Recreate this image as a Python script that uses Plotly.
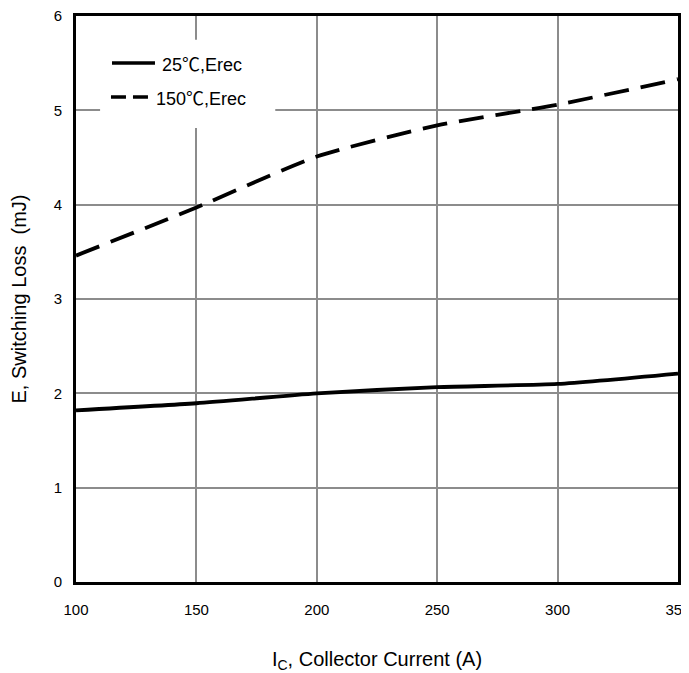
import plotly.graph_objects as go

ic = [100, 150, 200, 250, 300, 350]
erec_25 = [1.82, 1.895, 2.0, 2.065, 2.10, 2.21]
erec_150 = [3.46, 3.97, 4.51, 4.84, 5.06, 5.33]
series_names = ["25℃,Erec", "150℃,Erec"]
x_ticks = [100, 150, 200, 250, 300, 350]
y_ticks = [0, 1, 2, 3, 4, 5, 6]

FONT = "Liberation Sans, Arial, Noto Sans CJK SC"


def legend_label(name):
    # render the degree-Celsius sign with a CJK font, like the reference
    return name.replace("℃", '<span style="font-family:Noto Sans CJK SC">℃</span>')


fig = go.Figure()
fig.add_trace(go.Scatter(x=ic, y=erec_25, mode="lines", name=series_names[0],
                         line=dict(color="black", width=3.8, shape="spline", smoothing=0.6),
                         showlegend=False))
fig.add_trace(go.Scatter(x=ic, y=erec_150, mode="lines", name=series_names[1],
                         line=dict(color="black", width=3.8, dash="25px,12px", shape="spline", smoothing=0.6),
                         showlegend=False))

axis_common = dict(showline=True, linecolor="black", linewidth=3, mirror=True,
                   showgrid=True, gridcolor="#8c8c8c", gridwidth=1.6,
                   ticks="", zeroline=False, automargin=False,
                   ticklabeloverflow="allow",
                   tickfont=dict(family=FONT, size=15, color="black"))

# manual legend (white box hides grid lines, line samples, labels)
shapes = [
    dict(type="rect", xref="paper", yref="paper", x0=0.040, x1=0.331, y0=0.802, y1=0.958,
         fillcolor="white", line=dict(width=0), layer="above"),
    dict(type="line", xref="paper", yref="paper", x0=0.0598, x1=0.1312, y0=0.917, y1=0.917,
         line=dict(color="black", width=3.5), layer="above"),
    dict(type="line", xref="paper", yref="paper", x0=0.0581, x1=0.1196, y0=0.857, y1=0.857,
         line=dict(color="black", width=3.5, dash="15px,7px"), layer="above"),
]
annotations = [
    dict(xref="paper", yref="paper", x=0.1395, y=0.917, text=legend_label(series_names[0]), showarrow=False,
         xanchor="left", yanchor="middle", font=dict(family=FONT, size=18, color="black")),
    dict(xref="paper", yref="paper", x=0.1296, y=0.857, text=legend_label(series_names[1]), showarrow=False,
         xanchor="left", yanchor="middle", font=dict(family=FONT, size=18, color="black")),
]

fig.update_layout(
    width=681, height=665,
    margin=dict(l=68, r=11, t=8, b=91),
    paper_bgcolor="white", plot_bgcolor="white",
    font=dict(family=FONT, color="black"),
    xaxis=dict(range=[100, 350], tickvals=x_ticks, ticklabelstandoff=12,
               title=dict(text="I<sub>C</sub>, Collector Current (A)", font=dict(size=20), standoff=36),
               **axis_common),
    yaxis=dict(range=[0, 6], tickvals=y_ticks, ticklabelstandoff=8,
               title=dict(text="E, Switching Loss  (mJ)", font=dict(size=20), standoff=30),
               **axis_common),
    shapes=shapes,
    annotations=annotations,
    showlegend=False,
)

fig.write_html("out.html")
